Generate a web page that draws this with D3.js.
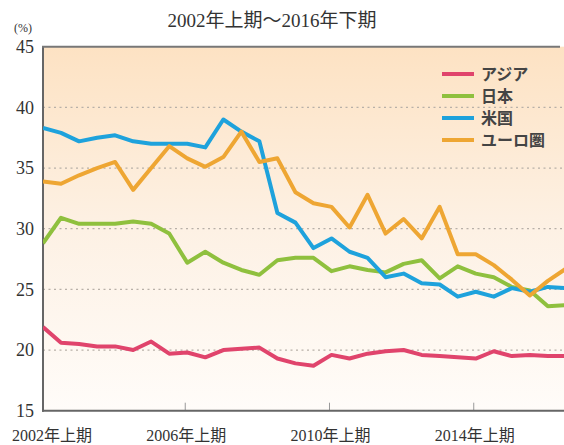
<!DOCTYPE html>
<html><head><meta charset="utf-8">
<script src="https://cdn.jsdelivr.net/npm/d3@7"></script>
<style>html,body{margin:0;padding:0;background:#fff;}svg{display:block;}</style>
</head><body>
<script>
const periods = d3.range(30).map(i => `${2002 + Math.floor(i/2)}年${i%2===0?"上期":"下期"}`);
const xTickLabels = ["2002年上期","2006年上期","2010年上期","2014年上期"];
const yTicks = [15,20,25,30,35,40,45];
const seriesNames = ["アジア","日本","米国","ユーロ圏"];
const asia  = [21.9,20.6,20.5,20.3,20.3,20.0,20.7,19.7,19.8,19.4,20.0,20.1,20.2,19.3,18.9,18.7,19.6,19.3,19.7,19.9,20.0,19.6,19.5,19.4,19.3,19.9,19.5,19.6,19.5,19.5];
const japan = [28.8,30.9,30.4,30.4,30.4,30.6,30.4,29.6,27.2,28.1,27.2,26.6,26.2,27.4,27.6,27.6,26.5,26.9,26.6,26.4,27.1,27.4,25.9,26.9,26.3,26.0,25.2,24.9,23.6,23.7];
const us    = [38.3,37.9,37.2,37.5,37.7,37.2,37.0,37.0,37.0,36.7,39.0,38.0,37.2,31.3,30.5,28.4,29.2,28.1,27.6,26.0,26.3,25.5,25.4,24.4,24.8,24.4,25.1,24.8,25.2,25.1];
const euro  = [33.9,33.7,34.4,35.0,35.5,33.2,35.0,36.8,35.8,35.1,35.9,38.0,35.5,35.8,33.0,32.1,31.8,30.1,32.8,29.6,30.8,29.2,31.8,27.9,27.9,27.0,25.8,24.5,25.7,26.7];
const seriesValues = [asia, japan, us, euro];
const colors = ["#e0446c","#8fc03e","#1ea2dc","#eea633"];

const W = 564, H = 445;
const svg = d3.select("body").append("svg").attr("width", W).attr("height", H);
const defs = svg.append("defs");
const grad = defs.append("linearGradient").attr("id","bg").attr("x1",0).attr("y1",0).attr("x2",0).attr("y2",1);
grad.append("stop").attr("offset","0%").attr("stop-color","#fde2c3");
grad.append("stop").attr("offset","50%").attr("stop-color","#fdf1e4");
grad.append("stop").attr("offset","100%").attr("stop-color","#fffcf9");

const x = d3.scaleLinear().domain([0, 29]).range([43, 565.9]);
const y = d3.scaleLinear().domain([15, 45]).range([410.7, 46.7]);
const serif = "'Liberation Serif','Noto Sans CJK JP',serif";

svg.append("rect").attr("x", x(0)).attr("y", y(45)).attr("width", W - x(0)).attr("height", y(15) - y(45)).attr("fill","url(#bg)");

// gridlines
svg.append("g").selectAll("line").data(yTicks.filter(v => v>15 && v<45)).join("line")
  .attr("x1", x(0)).attr("x2", W).attr("y1", d=>y(d)).attr("y2", d=>y(d))
  .attr("stroke","#b8b0a8").attr("stroke-width",1.2).attr("stroke-dasharray","2,3.5");

// y axis labels
svg.append("g").selectAll("text").data(yTicks).join("text")
  .attr("x", 34).attr("y", d=>y(d)).attr("dy","0.35em").attr("text-anchor","end")
  .attr("font-family", serif).attr("font-size", 18).attr("fill","#333").text(d=>d);
svg.append("text").attr("x", 23).attr("y", 32).attr("text-anchor","middle")
  .attr("font-family", serif).attr("font-size", 12).attr("fill","#333").text("(%)");

// x ticks & labels
const tickIdx = [0, 8, 16, 24];
svg.append("g").selectAll("line").data(tickIdx.slice(1)).join("line")
  .attr("x1", d=>x(d)-2).attr("x2", d=>x(d)-2).attr("y1", y(15)-8).attr("y2", y(15))
  .attr("stroke","#999").attr("stroke-width",1);
svg.append("g").selectAll("text").data(tickIdx).join("text")
  .attr("x", (d,i)=> i===0 ? 52 : x(d)-1).attr("y", 441).attr("text-anchor","middle")
  .attr("font-family", serif).attr("font-size", 16).attr("fill","#333")
  .text((d,i)=>xTickLabels[i]);

// axes frame
svg.append("line").attr("x1", x(0)).attr("x2", x(0)).attr("y1", y(45)).attr("y2", y(15)+1).attr("stroke","#666").attr("stroke-width",2);
svg.append("line").attr("x1", x(0)-1).attr("x2", W).attr("y1", y(15)).attr("y2", y(15)).attr("stroke","#666").attr("stroke-width",2);
svg.append("line").attr("x1", x(0)-1).attr("x2", 560).attr("y1", y(45)).attr("y2", y(45)).attr("stroke","#777").attr("stroke-width",2);

// lines
const line = d3.line().x((d,i)=>x(i)).y(d=>y(d));
const clip = defs.append("clipPath").attr("id","clip");
clip.append("rect").attr("x", x(0)).attr("y", y(45)).attr("width", W-x(0)).attr("height", y(15)-y(45));
svg.append("g").attr("clip-path","url(#clip)").selectAll("path").data(seriesValues).join("path")
  .attr("d", line).attr("fill","none").attr("stroke",(d,i)=>colors[i])
  .attr("stroke-width",4).attr("stroke-linejoin","round");

// title
svg.append("text").attr("x", 272).attr("y", 27).attr("text-anchor","middle")
  .attr("font-family", serif).attr("font-size", 19).attr("fill","#333").text("2002年上期～2016年下期");

// legend
const lg = svg.append("g");
seriesNames.forEach((n,i)=>{
  const yy = 74 + i*22;
  lg.append("line").attr("x1",442).attr("x2",474).attr("y1",yy).attr("y2",yy).attr("stroke",colors[i]).attr("stroke-width",4);
  lg.append("text").attr("x",481).attr("y",yy).attr("dy","0.35em").attr("font-family",serif)
    .attr("font-size",16).attr("font-weight","bold").attr("fill","#444").text(n);
});
</script>
</body></html>
